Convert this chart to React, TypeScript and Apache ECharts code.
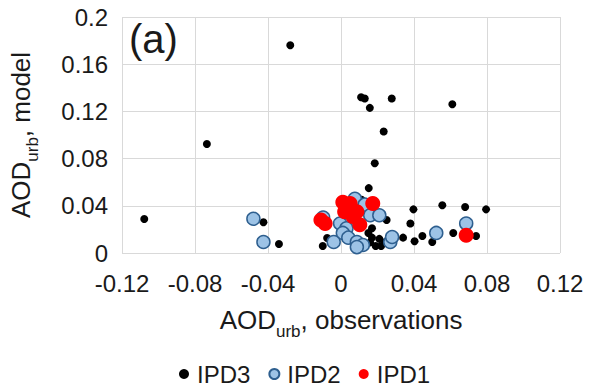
import React, { useEffect, useRef } from "react";
import * as echarts from "echarts";

const ipd3: [number, number][] = [
  [-0.1078, 0.0288], [-0.0735, 0.0924], [-0.0278, 0.176], [-0.0425, 0.026],
  [-0.034, 0.0076], [-0.010, 0.006], [-0.0076, 0.0127], [0.011, 0.132],
  [0.013, 0.131], [0.0278, 0.131], [0.0158, 0.123], [0.0234, 0.103],
  [0.0185, 0.076], [0.0152, 0.055], [0.061, 0.126], [0.0397, 0.037],
  [0.0555, 0.0405], [0.068, 0.039], [0.0795, 0.037], [0.038, 0.025],
  [0.0403, 0.010], [0.0446, 0.0144], [0.050, 0.0093], [0.0615, 0.017],
  [0.074, 0.0144], [0.025, 0.028], [0.034, 0.013], [0.017, 0.021],
  [0.017, 0.013], [0.019, 0.006], [0.013, 0.006], [0.022, 0.006],
  [0.016, 0.009], [0.021, 0.012], [0.015, 0.017], [0.024, 0.009],
  [0.0114, 0.045],
];

const ipd2: [number, number][] = [
  [-0.048, 0.029], [-0.0425, 0.0093], [-0.0098, 0.030], [0.0076, 0.046],
  [0.013, 0.041], [0.016, 0.032], [0.021, 0.032], [-0.0005, 0.025],
  [0.003, 0.021], [0.001, 0.017], [0.004, 0.013], [0.0087, 0.0093],
  [0.012, 0.0068], [0.0087, 0.005], [-0.004, 0.0093], [0.027, 0.0093],
  [0.028, 0.0136], [0.0522, 0.017], [0.0686, 0.025],
];

const ipd1: [number, number][] = [
  [-0.011, 0.028], [-0.0087, 0.025], [0.001, 0.043], [0.005, 0.042],
  [0.003, 0.039], [0.002, 0.035], [0.0087, 0.035], [0.0065, 0.031],
  [0.0103, 0.024], [0.0174, 0.042], [0.0686, 0.015],
];

const seriesNames = ["IPD3", "IPD2", "IPD1"];
const xTitle = ["AOD", "urb", ", observations"];
const yTitle = ["AOD", "urb", ", model"];
const panelLabel = "(a)";

const FONT = "Liberation Sans, Arial, sans-serif";
const TXT = "#1a1a1a";

const rich = {
  a: { fontSize: 26, fontFamily: FONT, color: TXT, lineHeight: 30, verticalAlign: "top" as const },
  b: { fontSize: 17, fontFamily: FONT, color: TXT, lineHeight: 18, padding: [16, 0, 0, 0], verticalAlign: "top" as const },
};

export default function App() {
  const ref = useRef<HTMLDivElement>(null);
  useEffect(() => {
    if (!ref.current) return;
    const chart = echarts.init(ref.current, null, { renderer: "svg" });
    chart.setOption({
      animation: false,
      backgroundColor: "#ffffff",
      grid: { left: 120, right: 29, top: 17, bottom: 138 },
      xAxis: {
        type: "value",
        min: -0.12,
        max: 0.12,
        interval: 0.04,
        axisLine: { show: false },
        axisTick: { show: false },
        splitLine: { show: true, lineStyle: { color: "#d9d9d9", width: 1 } },
        axisLabel: {
          fontSize: 24, fontFamily: FONT, color: TXT, margin: 18,
          formatter: (v: number) => String(Math.round(v * 100) / 100),
        },
        name: `{a|${xTitle[0]}}{b|${xTitle[1]}}{a|${xTitle[2]}}`,
        nameLocation: "middle",
        nameGap: 54,
        nameTextStyle: { rich },
      },
      yAxis: {
        type: "value",
        min: 0,
        max: 0.2,
        interval: 0.04,
        axisLine: { show: false },
        axisTick: { show: false },
        splitLine: { show: true, lineStyle: { color: "#d9d9d9", width: 1 } },
        axisLabel: {
          fontSize: 24, fontFamily: FONT, color: TXT, margin: 14,
          formatter: (v: number) => String(Math.round(v * 100) / 100),
        },
        name: `{a|${yTitle[0]}}{b|${yTitle[1]}}{a|${yTitle[2]}}`,
        nameLocation: "middle",
        nameGap: 84,
        nameTextStyle: { rich },
      },
      legend: {
        left: 174,
        top: 357,
        itemWidth: 16,
        itemHeight: 10,
        itemGap: 18,
        icon: "circle",
        textStyle: { fontSize: 24, fontFamily: FONT, color: TXT },
        data: seriesNames,
      },
      graphic: [
        {
          type: "text",
          left: 129,
          top: 19,
          style: { text: panelLabel, fontSize: 40, fontFamily: FONT, fill: TXT },
        },
      ],
      series: [
        {
          name: seriesNames[0],
          type: "scatter",
          data: ipd3,
          symbol: "circle",
          symbolSize: 8,
          itemStyle: { color: "#000000", opacity: 1 },
        },
        {
          name: seriesNames[1],
          type: "scatter",
          data: ipd2,
          symbol: "circle",
          symbolSize: 13,
          itemStyle: { color: "#9dc3e6", borderColor: "#2e5f8f", borderWidth: 1.5, opacity: 1 },
        },
        {
          name: seriesNames[2],
          type: "scatter",
          data: ipd1,
          symbol: "circle",
          symbolSize: 15,
          itemStyle: { color: "#ff0000", opacity: 1 },
        },
      ],
    });
    return () => chart.dispose();
  }, []);
  return <div ref={ref} style={{ position: "fixed", left: 0, top: 0, width: 589, height: 391 }} />;
}
